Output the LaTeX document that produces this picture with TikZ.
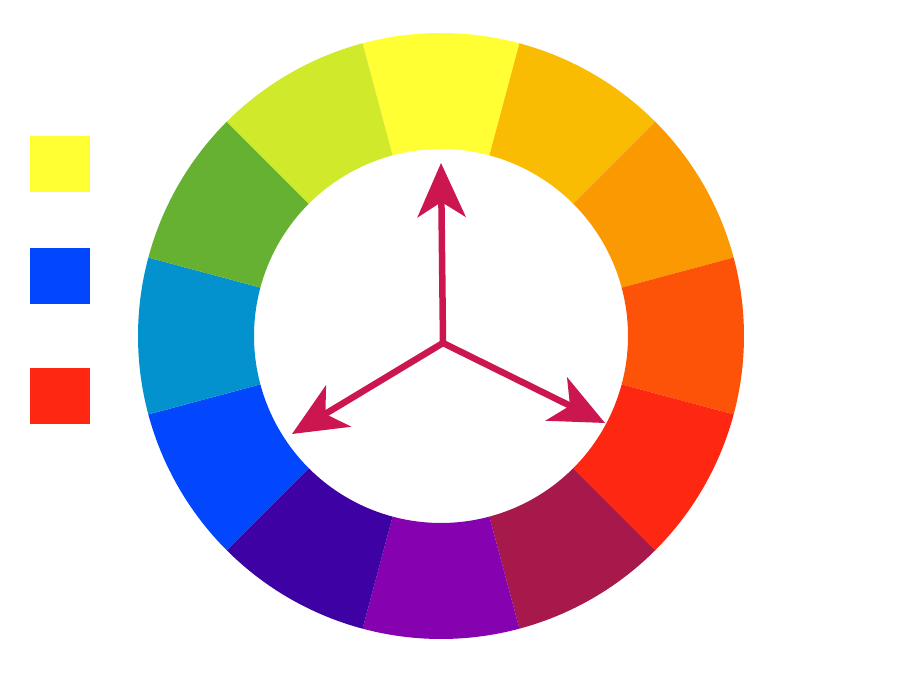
\documentclass[tikz,border=0pt]{standalone}
\usetikzlibrary{arrows.meta}
\definecolor{cY}{HTML}{FFFF33}
\definecolor{cYO}{HTML}{FABC02}
\definecolor{cO}{HTML}{FB9902}
\definecolor{cRO}{HTML}{FD5308}
\definecolor{cR}{HTML}{FE2712}
\definecolor{cRV}{HTML}{A7194B}
\definecolor{cV}{HTML}{8601AF}
\definecolor{cBV}{HTML}{3D01A4}
\definecolor{cB}{HTML}{0247FE}
\definecolor{cBG}{HTML}{0392CE}
\definecolor{cG}{HTML}{66B032}
\definecolor{cYG}{HTML}{D0EA2B}
\definecolor{arrowc}{HTML}{CC1650}
\begin{document}
\begin{tikzpicture}[x=1pt,y=1pt,
  swatch/.style={fill=#1,draw=none,minimum width=60pt,minimum height=56pt,inner sep=0pt},
  spoke/.style={draw=arrowc,line width=6.5pt,-{Stealth[length=54pt,width=48pt,inset=15pt]}}]
\useasboundingbox[fill=white] (0,0) rectangle (900,700);
% colour wheel
\begin{scope}[shift={(441,364)}]
\foreach \c [count=\i from 0] in {cY,cYO,cO,cRO,cR,cRV,cV,cBV,cB,cBG,cG,cYG}{
  \pgfmathsetmacro{\aa}{105-30*\i}
  \pgfmathsetmacro{\ab}{75-30*\i}
  \fill[\c] (\aa:303pt) arc[start angle=\aa,end angle=\ab,radius=303pt]
     -- (\ab:187pt) arc[start angle=\ab,end angle=\aa,radius=187pt] -- cycle;
}
\end{scope}
% swatches
\node[swatch=cY] (sqY) at (60,536) {};
\node[swatch=cB] (sqB) at (60,424) {};
\node[swatch=cR] (sqR) at (60,304) {};
% arrows
\coordinate (ctr) at (443,357);
\coordinate (tipU) at (441,537);
\coordinate (tipL) at (292,266);
\coordinate (tipR) at (605,277);
\draw[spoke] (ctr) -- (tipU);
\draw[spoke] (ctr) -- (tipL);
\draw[spoke] (ctr) -- (tipR);
\end{tikzpicture}
\end{document}
